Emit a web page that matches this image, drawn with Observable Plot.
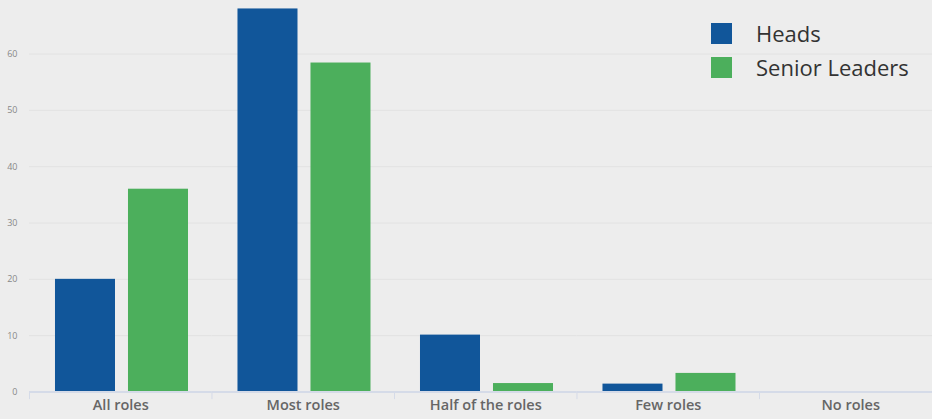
<!DOCTYPE html>
<html>
<head>
<meta charset="utf-8">
<script src="https://cdn.jsdelivr.net/npm/d3@7"></script>
<script src="https://cdn.jsdelivr.net/npm/@observablehq/plot@0.6"></script>
<style>
  html, body { margin: 0; padding: 0; background: #ededed; }
  #wrap { position: relative; width: 932px; height: 419px; overflow: hidden; font-family: "Open Sans", sans-serif; }
  #legend { position: absolute; left: 711px; top: 23px; }
  .row { position: absolute; left: 0; height: 21px; display: flex; align-items: center; white-space: nowrap; }
  .sw { width: 21px; height: 21px; margin-right: 24px; }
  .lab { font-size: 22px; color: #333; line-height: 21px; }
</style>
</head>
<body>
<div id="wrap"><div id="chart"></div><div id="legend"></div></div>
<script>
const categories = ["All roles", "Most roles", "Half of the roles", "Few roles", "No roles"];
const series = ["Heads", "Senior Leaders"];
const headsValues = [20, 68, 10.1, 1.4, 0];
const seniorValues = [36, 58.4, 1.5, 3.3, 0];
const colors = ["#11569a", "#4caf5c"];
const yTicks = [0, 10, 20, 30, 40, 50, 60];

const data = [];
categories.forEach((c, i) => {
  data.push({category: c, series: "Heads", value: headsValues[i]});
  data.push({category: c, series: "Senior Leaders", value: seniorValues[i]});
});

const chart = Plot.plot({
  width: 932,
  height: 419,
  marginLeft: 29,
  marginRight: -9.5,
  marginTop: 0,
  marginBottom: 27.5,
  style: {background: "#ededed", fontFamily: "Open Sans, sans-serif", overflow: "visible"},
  fx: {domain: categories, padding: 0, round: false, label: null},
  x: {domain: series, paddingInner: 0.178, paddingOuter: 0.339, align: 0.525, round: false, axis: null},
  y: {domain: [0, 69.5], label: null},
  color: {domain: series, range: colors},
  marks: [
    Plot.gridY(yTicks, {stroke: "#e2e2e2", strokeOpacity: 1}),
    Plot.axisY(yTicks, {tickSize: 0, tickPadding: 12, fontSize: 9, fill: "#888", label: null}),
    Plot.barY(data, {fx: "category", x: "series", y: "value", fill: "series"}),
    Plot.ruleY([0], {stroke: "#d5dbe8", strokeWidth: 2}),
    Plot.ruleX(categories, {fx: d => d, x: () => "Heads", dx: -56, y1: 0, y2: -1.35, stroke: "#d5dbe8", strokeWidth: 1}),
    Plot.axisFx({anchor: "bottom", tickSize: 0, tickPadding: 8, fontSize: 14.5, fontWeight: 600, fill: "#666", label: null})
  ]
});
document.getElementById("chart").appendChild(chart);

const legend = document.getElementById("legend");
series.forEach((s, i) => {
  const row = document.createElement("div");
  row.className = "row";
  row.style.top = (i * 34) + "px";
  row.innerHTML = `<div class="sw" style="background:${colors[i]}"></div><div class="lab">${s}</div>`;
  legend.appendChild(row);
});
</script>
</body>
</html>
